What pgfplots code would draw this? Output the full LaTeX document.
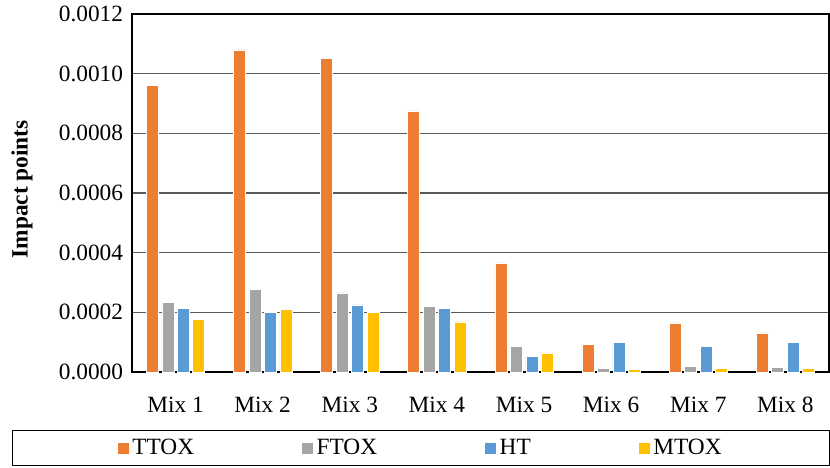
\documentclass[border=0pt]{standalone}
\usepackage{fontspec}
\setmainfont{Liberation Serif}
\usepackage{pgfplots}
\usepackage{pgfplotstable}
\pgfplotsset{compat=1.18}

\definecolor{cTTOX}{HTML}{ED7D31}
\definecolor{cFTOX}{HTML}{A5A5A5}
\definecolor{cHT}{HTML}{5B9BD5}
\definecolor{cMTOX}{HTML}{FFC000}

% mix  TTOX  FTOX  HT  MTOX
\pgfplotstableread{
x  ttox      ftox      ht        mtox
0  0.000960  0.000233  0.000212  0.000176
1  0.001080  0.000278  0.000201  0.000211
2  0.001050  0.000265  0.000225  0.000201
3  0.000875  0.000221  0.000212  0.000168
4  0.000366  0.0000848 0.0000513 0.0000637
5  0.0000915 0.0000110 0.0000983 0.0000077
6  0.000165  0.0000178 0.0000871 0.0000121
7  0.000131  0.0000154 0.0001000 0.0000110
}\impact

\begin{document}
\begin{tikzpicture}[font=\fontsize{17.5pt}{20pt}\selectfont]
\begin{axis}[
    scale only axis,
    width=522.75pt, height=268.5pt,
    ybar=2.6pt,
    bar width=9pt,
    xmin=-0.5, xmax=7.5,
    ymin=0, ymax=0.0012,
    ytick={0,0.0002,0.0004,0.0006,0.0008,0.0010,0.0012},
    xtick=data,
    xticklabels={Mix 1,Mix 2,Mix 3,Mix 4,Mix 5,Mix 6,Mix 7,Mix 8},
    scaled y ticks=false,
    yticklabel style={/pgf/number format/fixed, /pgf/number format/fixed zerofill,
        /pgf/number format/precision=4, /pgf/number format/assume math mode=true,
        xshift=-3.2pt},
    xticklabel style={yshift=-15.2pt},
    major tick length=0pt,
    ymajorgrids,
    grid style={gray!70!black, line width=0.8pt},
    axis line style={black, line width=0.8pt},
    ylabel={\bfseries Impact points},
    ylabel style={at={(axis description cs:-0.1578,0.51)}, anchor=center},
    legend columns=4,
    legend style={at={(axis description cs:-0.1726,-0.212)}, anchor=west,
        draw=black, line width=0.8pt, inner xsep=78.45pt, inner ysep=4.5pt,
        nodes={inner xsep=2.25pt, inner ysep=2pt},
        /tikz/every even column/.append style={column sep=78pt}},
    legend image code/.code={\fill[#1] (0pt,-4.5pt) rectangle (9pt,4.5pt);},
    every axis plot/.append style={draw=white, line width=0.4pt},
]
\addplot[fill=cTTOX] table[x=x, y=ttox] {\impact};
\addplot[fill=cFTOX] table[x=x, y=ftox] {\impact};
\addplot[fill=cHT] table[x=x, y=ht] {\impact};
\addplot[fill=cMTOX] table[x=x, y=mtox] {\impact};
\legend{TTOX,FTOX,HT,MTOX}
\coordinate (O) at (rel axis cs:0,0);
\node[anchor=base] at (rel axis cs:0.406,1.0363) {(a)};
\end{axis}
\pgfresetboundingbox
\path[use as bounding box] (O) ++(-99pt,-71.25pt) rectangle ++(622.5pt,350.25pt);
\end{tikzpicture}
\end{document}
